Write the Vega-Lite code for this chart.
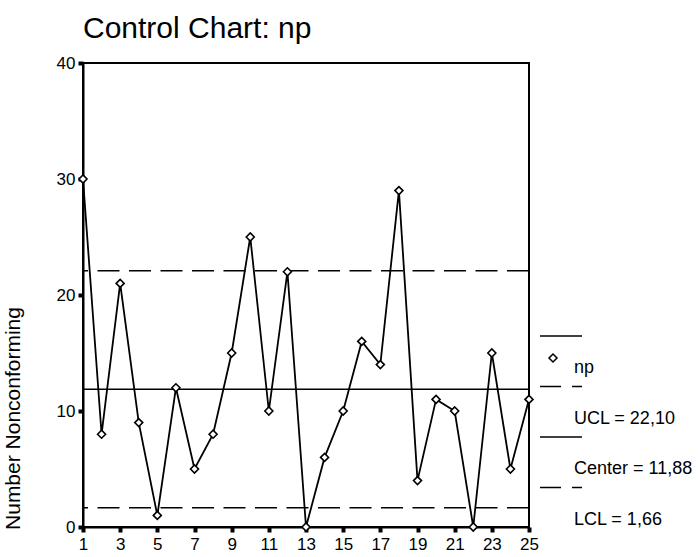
{
  "$schema": "https://vega.github.io/schema/vega-lite/v6.json",
  "autosize": {"type": "none"},
  "width": 446,
  "height": 464,
  "padding": {"left": 83, "top": 63, "right": 171, "bottom": 30},
  "background": "white",
  "title": {"text": "Control Chart: np", "anchor": "start", "frame": "group", "font": "Liberation Sans", "fontSize": 30, "fontWeight": "normal", "color": "black", "offset": 10},
  "config": {
    "font": "Liberation Sans",
    "view": {"stroke": "black", "strokeWidth": 2},
    "axis": {"grid": false, "domainColor": "black", "domainWidth": 2, "tickColor": "black", "tickSize": 5, "tickWidth": 4, "labelColor": "black", "labelFont": "Liberation Sans", "labelFontSize": 17, "labelOverlap": false, "labelFlush": false, "titleFont": "Liberation Sans", "titleFontWeight": "normal", "titleColor": "black", "titleFontSize": 21}
  },
  "datasets": {
    "np": [
      {"sample": 1, "np": 30}, {"sample": 2, "np": 8}, {"sample": 3, "np": 21}, {"sample": 4, "np": 9}, {"sample": 5, "np": 1},
      {"sample": 6, "np": 12}, {"sample": 7, "np": 5}, {"sample": 8, "np": 8}, {"sample": 9, "np": 15}, {"sample": 10, "np": 25},
      {"sample": 11, "np": 10}, {"sample": 12, "np": 22}, {"sample": 13, "np": 0}, {"sample": 14, "np": 6}, {"sample": 15, "np": 10},
      {"sample": 16, "np": 16}, {"sample": 17, "np": 14}, {"sample": 18, "np": 29}, {"sample": 19, "np": 4}, {"sample": 20, "np": 11},
      {"sample": 21, "np": 10}, {"sample": 22, "np": 0}, {"sample": 23, "np": 15}, {"sample": 24, "np": 5}, {"sample": 25, "np": 11}
    ],
    "limits": [
      {"limit": "UCL = 22,10", "value": 22.10},
      {"limit": "Center = 11,88", "value": 11.88},
      {"limit": "LCL = 1,66", "value": 1.66}
    ],
    "legendItems": [
      {"item": "np"}, {"item": "UCL = 22,10"}, {"item": "Center = 11,88"}, {"item": "LCL = 1,66"}
    ]
  },
  "layer": [
    {
      "data": {"name": "limits"},
      "mark": {"type": "rule", "color": "black", "strokeWidth": 1.5},
      "encoding": {
        "y": {"field": "value", "type": "quantitative", "scale": {"domain": [0, 40], "nice": false},
              "axis": {"values": [0, 10, 20, 30, 40], "title": "Number Nonconforming", "labelPadding": 3, "titlePadding": 33, "titleY": 355}},
        "strokeDash": {"field": "limit", "type": "nominal",
                       "scale": {"domain": ["UCL = 22,10", "Center = 11,88", "LCL = 1,66"], "range": [[22, 9.5], [1, 0], [22, 9.5]]},
                       "legend": null}
      }
    },
    {
      "data": {"name": "np"},
      "mark": {"type": "line", "color": "black", "strokeWidth": 1.8},
      "encoding": {
        "x": {"field": "sample", "type": "quantitative", "scale": {"domain": [1, 25], "nice": false, "zero": false},
              "axis": {"values": [1, 3, 5, 7, 9, 11, 13, 15, 17, 19, 21, 23, 25], "title": null, "labelPadding": 4}},
        "y": {"field": "np", "type": "quantitative",
              "axis": {"values": [0, 10, 20, 30, 40], "title": "Number Nonconforming", "labelPadding": 3, "titlePadding": 33, "titleY": 355}}
      }
    },
    {
      "data": {"name": "np"},
      "mark": {"type": "point", "shape": "diamond", "size": 64, "filled": true, "fill": "white", "stroke": "black", "strokeWidth": 1.6, "opacity": 1},
      "encoding": {
        "x": {"field": "sample", "type": "quantitative",
              "axis": {"values": [1, 3, 5, 7, 9, 11, 13, 15, 17, 19, 21, 23, 25], "title": null, "labelPadding": 4}},
        "y": {"field": "np", "type": "quantitative",
              "axis": {"values": [0, 10, 20, 30, 40], "title": "Number Nonconforming", "labelPadding": 3, "titlePadding": 33, "titleY": 355}}
      }
    },
    {
      "data": {"name": "legendItems"},
      "mark": {"type": "point", "filled": false, "color": "black", "strokeWidth": 1.5, "clip": true, "opacity": 1},
      "encoding": {
        "x": {"datum": 1, "type": "quantitative",
              "axis": {"values": [1, 3, 5, 7, 9, 11, 13, 15, 17, 19, 21, 23, 25], "title": null, "labelPadding": 4}},
        "y": {"datum": -50, "type": "quantitative",
              "axis": {"values": [0, 10, 20, 30, 40], "title": "Number Nonconforming", "labelPadding": 3, "titlePadding": 33, "titleY": 355}},
        "shape": {
          "field": "item", "type": "nominal",
          "scale": {
            "domain": ["np", "UCL = 22,10", "Center = 11,88", "LCL = 1,66"],
            "range": [
              "M-1,-1.52H1M-0.381,-0.667L-0.19,-0.476L-0.381,-0.285L-0.572,-0.476Z",
              "M-1,-1.52H0M0.524,-1.52H1",
              "M-1,-1.52H1",
              "M-1,-1.52H0M0.524,-1.52H1"
            ]
          },
          "legend": {
            "title": null, "orient": "none", "legendX": 456, "legendY": 283, "padding": 0,
            "symbolSize": 1764, "symbolStrokeWidth": 1.5, "symbolStrokeColor": "black", "symbolFillColor": "white",
            "labelFont": "Liberation Sans", "labelFontSize": 18, "labelColor": "black", "labelOffset": -9,
            "rowPadding": 6.5, "labelLimit": 300
          }
        }
      }
    }
  ]
}
